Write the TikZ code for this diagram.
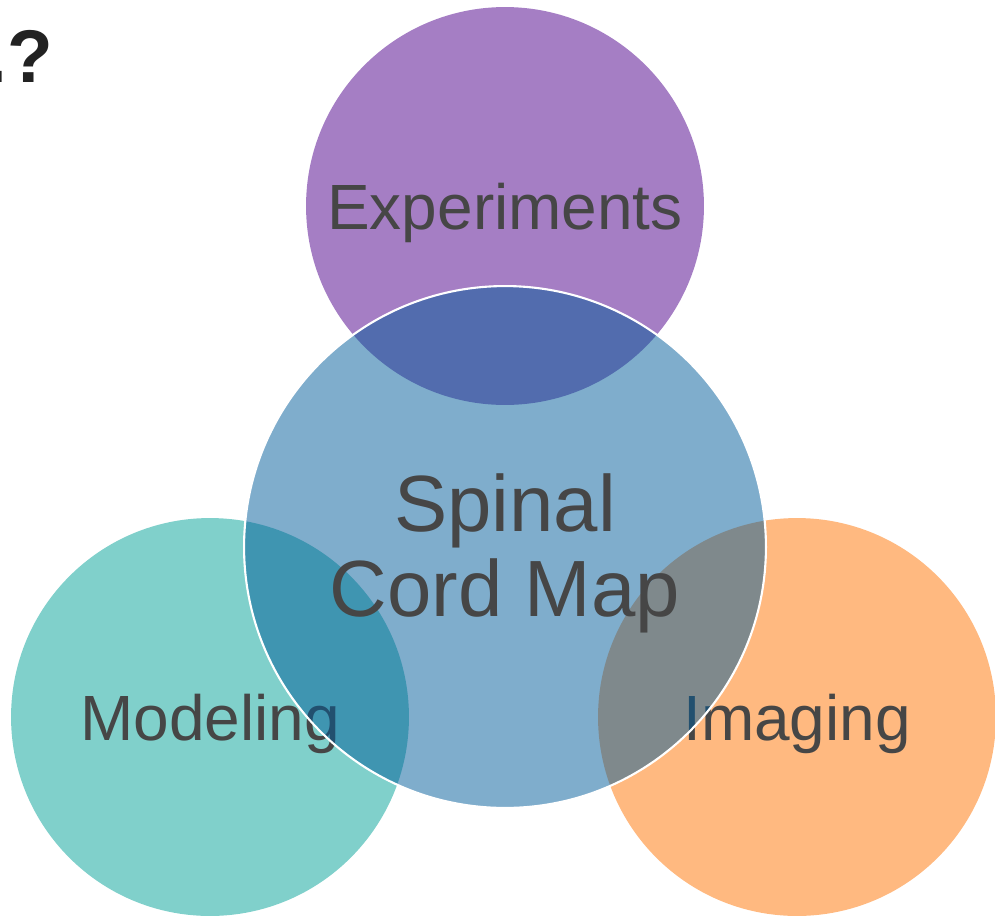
\documentclass[tikz,border=0pt]{standalone}
\usepackage{fontspec}
\setmainfont{Liberation Sans}

\definecolor{expfill}{HTML}{A57EC4}
\definecolor{modfill}{HTML}{80D0CB}
\definecolor{imgfill}{HTML}{FFB980}
\definecolor{corefill}{HTML}{005B99}
\definecolor{labelgray}{HTML}{464646}
\definecolor{titlegray}{HTML}{222222}

\begin{document}
\begin{tikzpicture}[x=0.02cm, y=-0.02cm,
    topic/.style={circle, inner sep=0pt, minimum size=7.96cm, text=labelgray, text depth=0pt, font=\fontsize{36.4}{40}\selectfont},
    core/.style={circle, inner sep=0pt, draw=white, line width=1.2pt, fill=corefill, fill opacity=0.5, minimum size=10.44cm},
    coretext/.style={inner sep=0pt, align=center, text=labelgray, font=\fontsize{45.4}{48.7}\selectfont}
]
    \clip (0,0) rectangle (995,917);

    \node[anchor=base east, inner sep=0pt, text=titlegray, font=\bfseries\fontsize{42.5}{45}\selectfont] (title) at (53,82) {..?};

    \node[topic, fill=expfill] (exp) at (505,206) {Experiments};
    \node[topic, fill=modfill] (model) at (210,717) {Modeling};
    \node[topic, fill=imgfill] (img) at (797,717) {Imaging};

    % translucent centre circle, its text on top
    \node[core] (map) at (505,547) {};
    \node[coretext] (maplabel) at ([yshift=-0.13cm]map.center) {Spinal\\ Cord Map};
\end{tikzpicture}
\end{document}
